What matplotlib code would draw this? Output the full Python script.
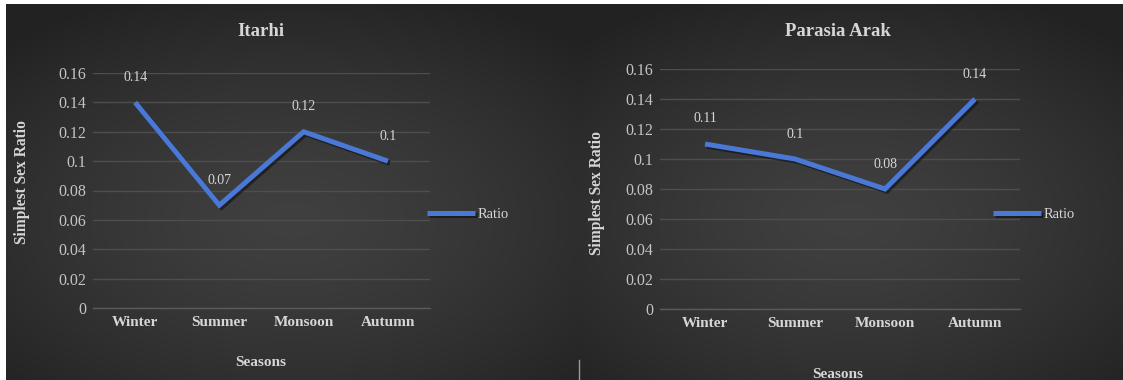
import numpy as np
import matplotlib
matplotlib.use("Agg")
import matplotlib.pyplot as plt
import matplotlib.patheffects as pe
from matplotlib.lines import Line2D

# Data
seasons = ["Winter", "Summer", "Monsoon", "Autumn"]
itarhi_ratio = [0.14, 0.07, 0.12, 0.10]
parasia_ratio = [0.11, 0.10, 0.08, 0.14]
itarhi_labels = ["0.14", "0.07", "0.12", "0.1"]
parasia_labels = ["0.11", "0.1", "0.08", "0.14"]
y_ticks = [0, 0.02, 0.04, 0.06, 0.08, 0.1, 0.12, 0.14, 0.16]
y_tick_labels = ["0", "0.02", "0.04", "0.06", "0.08", "0.1", "0.12", "0.14", "0.16"]

W, H = 1123, 380
fig = plt.figure(figsize=(W / 100, H / 100), dpi=100, facecolor="white")

SERIF = ["Liberation Serif", "DejaVu Serif"]
LINE_BLUE = "#4a78d6"
TEXT = "#d6d6d6"
TICK = "#c4c4c4"
GRID = "#4e4e4e"


def panel_background(x0, x1, y0, y1):
    """Dark radial gradient panel, given in pixel bounds."""
    bg = fig.add_axes([x0 / W, y0 / H, (x1 - x0) / W, (y1 - y0) / H], zorder=-10)
    nx, ny = 300, 200
    xs = np.linspace(-1, 1, nx)
    ys = np.linspace(-1, 1, ny)
    X, Y = np.meshgrid(xs, ys)
    R = np.sqrt((X * 0.9) ** 2 + ((Y + 0.15) * 1.0) ** 2) / 1.3
    R = np.clip(R, 0, 1)
    c_in, c_out = 0.25, 0.135
    val = c_in + (c_out - c_in) * R ** 1.4
    img = np.dstack([val, val, val])
    bg.imshow(img, aspect="auto", extent=[0, 1, 0, 1], origin="lower")
    bg.set_axis_off()


panel_background(6, 578, 0, 376)
panel_background(578, W, 0, 376)


def draw_panel(rect, title, values, labels, title_xy, ylab_xy, xlab_xy, legend_anchor):
    ax = fig.add_axes(rect)
    ax.set_facecolor("none")
    x = np.arange(len(seasons))
    ax.plot(x, values, color=LINE_BLUE, lw=3.6, solid_joinstyle="miter",
            solid_capstyle="butt", label="Ratio", zorder=3,
            path_effects=[pe.SimpleLineShadow(offset=(1.5, -1.5), shadow_color="black", alpha=0.45),
                          pe.Normal()])
    for xi, v, lab in zip(x, values, labels):
        ax.annotate(lab, (xi, v), xytext=(0, 18), textcoords="offset points",
                    ha="center", va="center", color=TEXT, fontsize=10,
                    family=SERIF)
    ax.set_xlim(-0.5, len(seasons) - 0.5)
    ax.set_ylim(0, 0.16)
    ax.set_yticks(y_ticks)
    ax.set_yticklabels(y_tick_labels)
    ax.set_xticks(x)
    ax.set_xticklabels(seasons)
    for t in ax.get_yticklabels():
        t.set_family(SERIF)
        t.set_fontsize(11.5)
        t.set_color(TICK)
    for t in ax.get_xticklabels():
        t.set_family(SERIF)
        t.set_fontsize(11)
        t.set_fontweight("bold")
        t.set_color(TEXT)
    ax.tick_params(axis="y", length=0, pad=5)
    ax.tick_params(axis="x", length=0, pad=6)
    ax.grid(axis="y", color=GRID, lw=1.0)
    ax.set_axisbelow(True)
    for s in ["top", "right", "left"]:
        ax.spines[s].set_visible(False)
    ax.spines["bottom"].set_color("#5a5a5a")
    ax.spines["bottom"].set_linewidth(1.0)

    fig.text(title_xy[0] / W, 1 - title_xy[1] / H, title, ha="center", va="center",
             color=TEXT, fontsize=13.5, fontweight="bold", family=SERIF)
    fig.text(ylab_xy[0] / W, 1 - ylab_xy[1] / H, "Simplest Sex Ratio", rotation=90,
             ha="center", va="center", color=TEXT, fontsize=11.2, fontweight="bold",
             family=SERIF)
    fig.text(xlab_xy[0] / W, 1 - xlab_xy[1] / H, "Seasons", ha="center", va="center",
             color=TEXT, fontsize=11, fontweight="bold", family=SERIF)

    leg = ax.legend(loc="center left", bbox_to_anchor=legend_anchor, frameon=False,
                    borderpad=0, borderaxespad=0, handlelength=3.3, handletextpad=0.2,
                    prop={"family": SERIF, "size": 10.5})
    for t in leg.get_texts():
        t.set_color(TEXT)
    return ax


# Itarhi panel: plot area px x 93..430, y 73..308
draw_panel([93 / W, (H - 308) / H, 337 / W, 235 / H], "Itarhi",
           itarhi_ratio, itarhi_labels,
           title_xy=(261, 31), ylab_xy=(22, 182), xlab_xy=(261, 362),
           legend_anchor=(0.99, 0.40))

# Parasia Arak panel: plot area px x 660..1020, y 69..309
draw_panel([660 / W, (H - 309) / H, 360 / W, 240 / H], "Parasia Arak",
           parasia_ratio, parasia_labels,
           title_xy=(838, 31), ylab_xy=(597, 193), xlab_xy=(838, 374),
           legend_anchor=(0.925, 0.395))

# thin divider mark near the lower edge between the panels
fig.add_artist(Line2D([579 / W, 579 / W], [0, (H - 360) / H], color="#9a9a9a", lw=1.0))

fig.savefig("out.png", dpi=100, facecolor=fig.get_facecolor())
